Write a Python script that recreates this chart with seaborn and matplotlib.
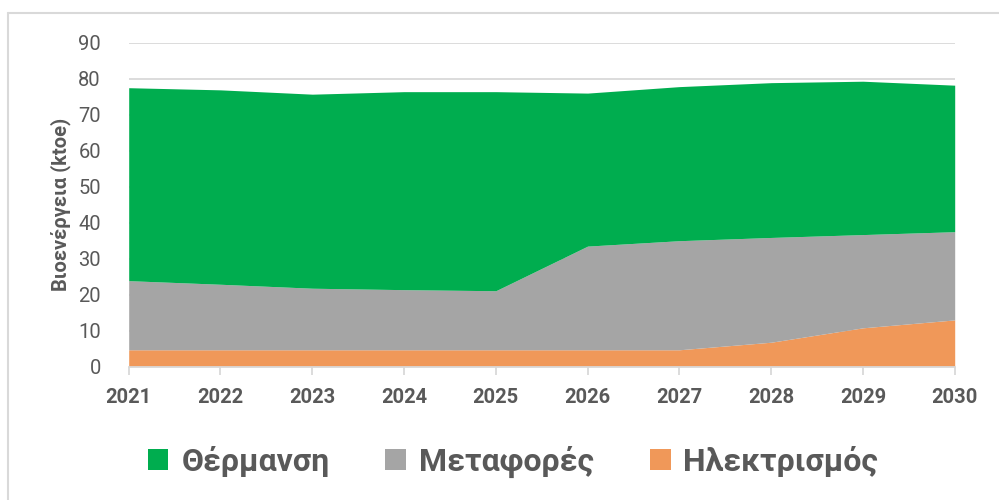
import matplotlib
matplotlib.use("Agg")
import matplotlib.pyplot as plt
import seaborn as sns
import pandas as pd
from matplotlib.patches import Patch
from matplotlib.lines import Line2D

years = [2021, 2022, 2023, 2024, 2025, 2026, 2027, 2028, 2029, 2030]
electricity = [4.7, 4.7, 4.7, 4.7, 4.7, 4.7, 4.7, 6.8, 10.8, 13.0]
transport = [19.2, 18.2, 17.1, 16.7, 16.4, 28.8, 30.3, 29.1, 25.9, 24.5]
heating = [53.6, 54.0, 53.9, 55.0, 55.3, 42.5, 42.8, 43.0, 42.6, 40.7]
labels = ["Θέρμανση", "Μεταφορές", "Ηλεκτρισμός"]
colors = {"Θέρμανση": "#00ad4f", "Μεταφορές": "#a5a5a5", "Ηλεκτρισμός": "#f09859"}

df = pd.DataFrame({"Έτος": years, "Ηλεκτρισμός": electricity,
                   "Μεταφορές": transport, "Θέρμανση": heating})

sns.set_style("white")
plt.rcParams["font.family"] = ["Roboto", "DejaVu Sans"]

fig = plt.figure(figsize=(9.99, 5), dpi=100)
ax = fig.add_axes([128.7 / 999, 1 - 366.7 / 500, (954.7 - 128.7) / 999, (366.7 - 42.7) / 500])

# stacked areas, bottom to top
order = ["Ηλεκτρισμός", "Μεταφορές", "Θέρμανση"]
ax.stackplot(df["Έτος"], *[df[c] for c in order],
             colors=[colors[c] for c in order], linewidth=0, zorder=2)

ax.set_xlim(2021, 2030)
ax.set_ylim(0, 90)
ax.set_yticks(range(0, 91, 10))
ax.set_xticks(years)
ax.yaxis.grid(True, color="#d9d9d9", linewidth=1.3, zorder=0)
sns.despine(ax=ax, left=True, top=True, right=True, bottom=False)
ax.spines["bottom"].set_color("#d9d9d9")
ax.spines["bottom"].set_linewidth(1.3)
ax.spines["bottom"].set_zorder(3)
ax.tick_params(axis="x", length=6, width=1.3, color="#d9d9d9", pad=9,
               labelsize=14.5, labelcolor="#595959", direction="out")
ax.tick_params(axis="y", length=0, pad=20, labelsize=14.5, labelcolor="#595959")
ax.xaxis.set_ticks_position("bottom")
for t in ax.get_xticklabels():
    t.set_fontweight("bold")
ax.set_ylabel("Βιοενέργεια (ktoe)", fontsize=14.5, fontweight="bold", color="#595959", labelpad=5)
ax.set_xlabel("")

handles = [Patch(facecolor=colors[l], edgecolor="none") for l in labels]
fig.legend(handles, labels, loc="center", bbox_to_anchor=(513 / 999, 1 - 462 / 500),
           ncol=3, frameon=False, handlelength=0.65, handleheight=0.65,
           handletextpad=0.4, columnspacing=1.75, labelcolor="#595959",
           prop={"size": 23, "weight": "bold"})

# light chart frame
fig.add_artist(Line2D([8 / 999, 8 / 999], [0, 1 - 13 / 500], transform=fig.transFigure,
                      color="#d9d9d9", linewidth=1.5))
fig.add_artist(Line2D([8 / 999, 1], [1 - 13 / 500, 1 - 13 / 500], transform=fig.transFigure,
                      color="#d9d9d9", linewidth=1.5))

fig.savefig("out.png", dpi=100)
